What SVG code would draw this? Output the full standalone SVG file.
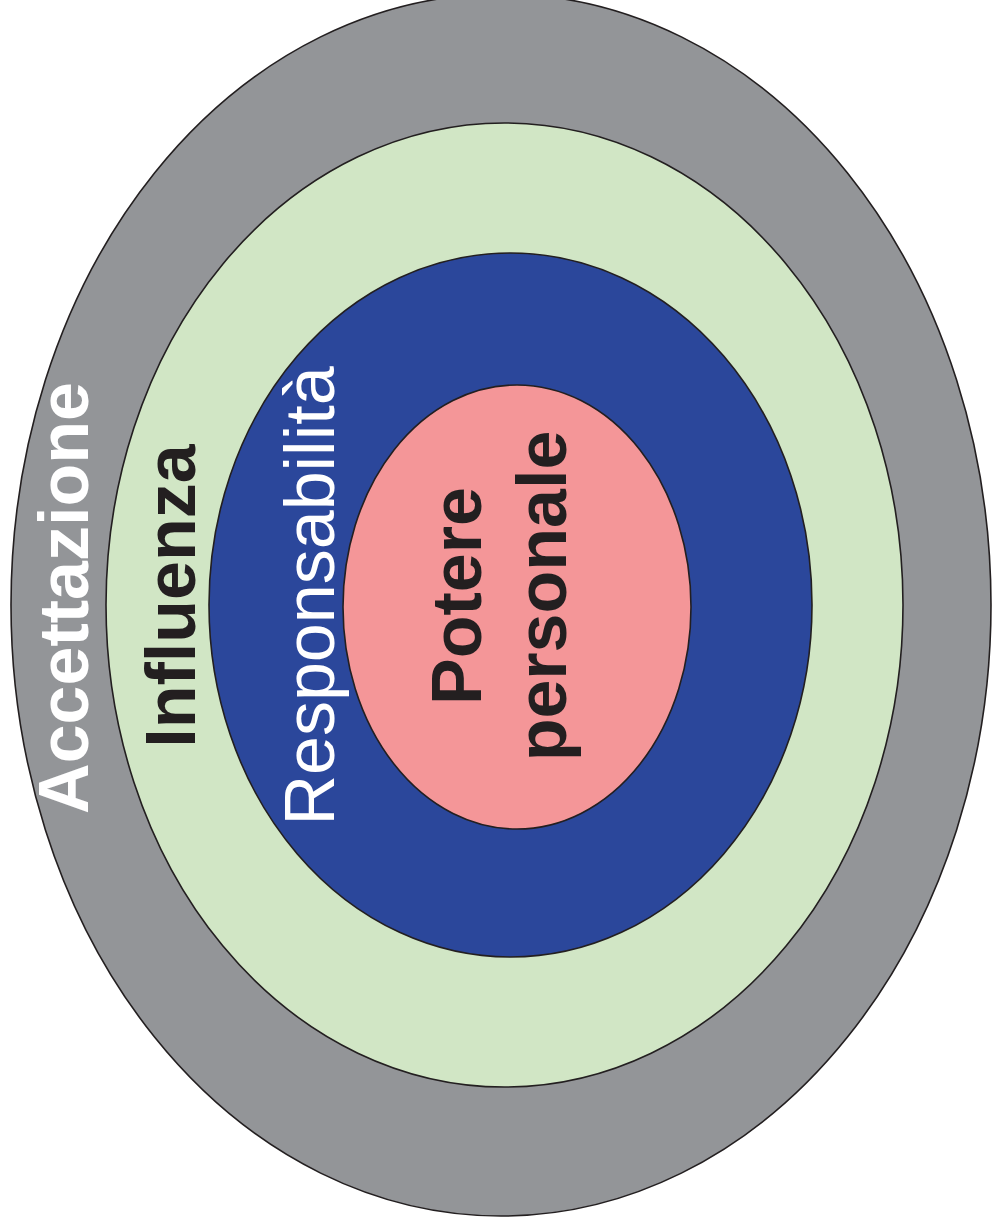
<svg xmlns="http://www.w3.org/2000/svg" width="992" height="1229" viewBox="0 0 992 1229">
<style>
.ring{stroke:#231f20;stroke-width:1.6}
.lbl{font-family:"Liberation Sans",Arial,sans-serif;font-size:70px;text-anchor:middle}
.b{font-weight:bold}
</style>
<rect width="992" height="1229" fill="#ffffff"/>
<g id="accettazione">
<ellipse class="ring" cx="501" cy="605" rx="490" ry="611" fill="#939598"/>
<text class="lbl b" fill="#ffffff" transform="translate(88,598) rotate(-90)">Accettazione</text>
</g>
<g id="influenza">
<ellipse class="ring" cx="504.5" cy="605" rx="398.5" ry="482" fill="#d1e6c5"/>
<text class="lbl b" fill="#231f20" transform="translate(195,596) rotate(-90)">Influenza</text>
</g>
<g id="responsabilita">
<ellipse class="ring" cx="510.5" cy="605" rx="301.5" ry="352" fill="#2b479b"/>
<text class="lbl" fill="#ffffff" transform="translate(334,596) rotate(-90)">Responsabilità</text>
</g>
<g id="potere-personale">
<ellipse class="ring" cx="517" cy="607" rx="174" ry="222" fill="#f49698"/>
<text class="lbl b" fill="#231f20" transform="translate(481,596) rotate(-90)">Potere</text>
<text class="lbl b" fill="#231f20" transform="translate(566,596) rotate(-90)">personale</text>
</g>
<g id="connectors"></g>
</svg>
